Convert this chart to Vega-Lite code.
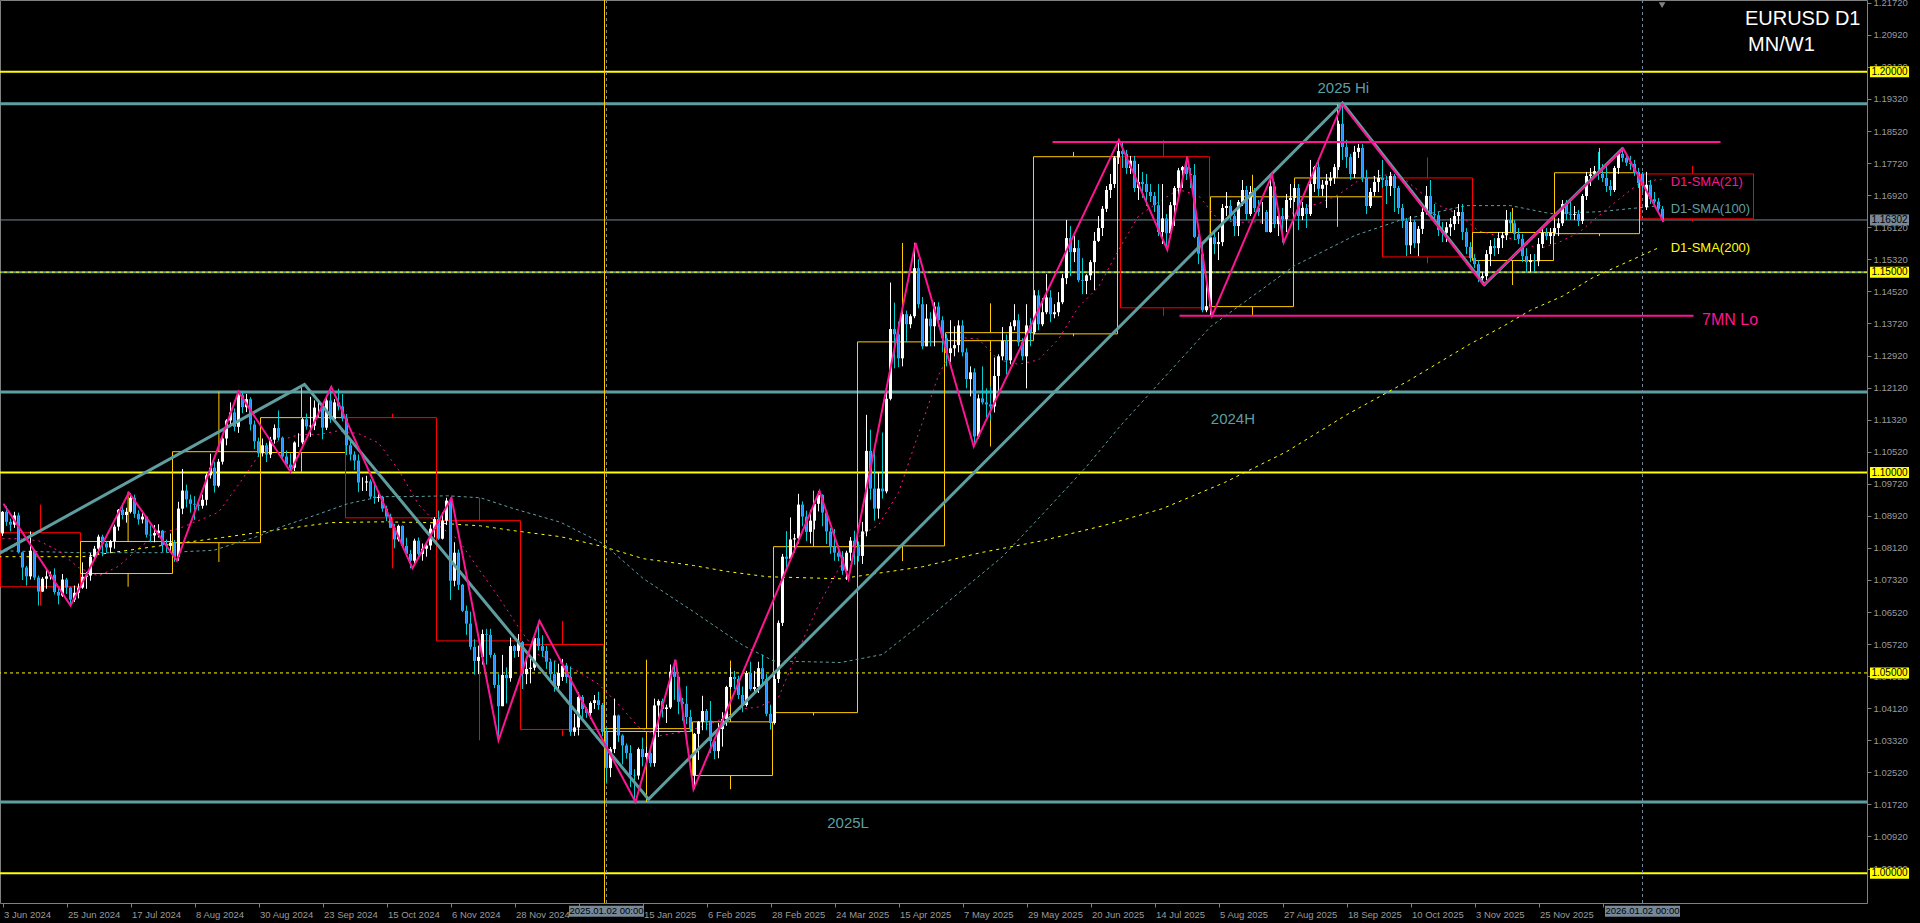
{
"$schema": "https://vega.github.io/schema/vega-lite/v6.json",
"width": 1867, "height": 903,
"autosize": {"type": "none"},
"padding": {"left": 0, "top": 0, "right": 53, "bottom": 20},
"background": "#000000",
"config": {"view": {"stroke": "#808080", "strokeWidth": 1}, "font": "Liberation Sans", "axis": {"labelOverlap": false, "labelBound": false, "labelFlush": false}},
"datasets": {
"candles": [
{"i":0,"o":1.0848,"h":1.0904,"l":1.0842,"c":1.0902},{"i":1,"o":1.0902,"h":1.0916,"l":1.0867,"c":1.0877},{"i":2,"o":1.0877,"h":1.0885,"l":1.0853,"c":1.0870},{"i":3,"o":1.0870,"h":1.0902,"l":1.0862,"c":1.0893},{"i":4,"o":1.0893,"h":1.0900,"l":1.0798,"c":1.0801},
{"i":5,"o":1.0801,"h":1.0802,"l":1.0732,"c":1.0763},{"i":6,"o":1.0763,"h":1.0767,"l":1.0718,"c":1.0741},{"i":7,"o":1.0741,"h":1.0853,"l":1.0733,"c":1.0805},{"i":8,"o":1.0805,"h":1.0809,"l":1.0732,"c":1.0738},{"i":9,"o":1.0738,"h":1.0743,"l":1.0668,"c":1.0703},
{"i":10,"o":1.0703,"h":1.0739,"l":1.0702,"c":1.0735},{"i":11,"o":1.0735,"h":1.0762,"l":1.0710,"c":1.0741},{"i":12,"o":1.0741,"h":1.0753,"l":1.0733,"c":1.0745},{"i":13,"o":1.0745,"h":1.0761,"l":1.0696,"c":1.0702},{"i":14,"o":1.0702,"h":1.0711,"l":1.0671,"c":1.0693},
{"i":15,"o":1.0693,"h":1.0747,"l":1.0690,"c":1.0733},{"i":16,"o":1.0733,"h":1.0737,"l":1.0697,"c":1.0713},{"i":17,"o":1.0713,"h":1.0715,"l":1.0666,"c":1.0683},{"i":18,"o":1.0683,"h":1.0718,"l":1.0677,"c":1.0700},{"i":19,"o":1.0700,"h":1.0723,"l":1.0686,"c":1.0713},
{"i":20,"o":1.0713,"h":1.0776,"l":1.0710,"c":1.0740},{"i":21,"o":1.0740,"h":1.0752,"l":1.0710,"c":1.0743},{"i":22,"o":1.0743,"h":1.0799,"l":1.0730,"c":1.0790},{"i":23,"o":1.0790,"h":1.0817,"l":1.0785,"c":1.0810},{"i":24,"o":1.0810,"h":1.0845,"l":1.0797,"c":1.0840},
{"i":25,"o":1.0840,"h":1.0845,"l":1.0791,"c":1.0823},{"i":26,"o":1.0823,"h":1.0828,"l":1.0800,"c":1.0813},{"i":27,"o":1.0813,"h":1.0832,"l":1.0800,"c":1.0829},{"i":28,"o":1.0829,"h":1.0870,"l":1.0810,"c":1.0865},{"i":29,"o":1.0865,"h":1.0909,"l":1.0855,"c":1.0907},
{"i":30,"o":1.0907,"h":1.0922,"l":1.0883,"c":1.0894},{"i":31,"o":1.0894,"h":1.0912,"l":1.0875,"c":1.0902},{"i":32,"o":1.0902,"h":1.0948,"l":1.0898,"c":1.0937},{"i":33,"o":1.0937,"h":1.0945,"l":1.0887,"c":1.0897},{"i":34,"o":1.0897,"h":1.0906,"l":1.0870,"c":1.0883},
{"i":35,"o":1.0883,"h":1.0903,"l":1.0873,"c":1.0890},{"i":36,"o":1.0890,"h":1.0892,"l":1.0838,"c":1.0845},{"i":37,"o":1.0845,"h":1.0868,"l":1.0826,"c":1.0843},{"i":38,"o":1.0843,"h":1.0869,"l":1.0826,"c":1.0849},{"i":39,"o":1.0849,"h":1.0871,"l":1.0838,"c":1.0855},
{"i":40,"o":1.0855,"h":1.0857,"l":1.0802,"c":1.0819},{"i":41,"o":1.0819,"h":1.0833,"l":1.0800,"c":1.0817},{"i":42,"o":1.0817,"h":1.0848,"l":1.0801,"c":1.0825},{"i":43,"o":1.0825,"h":1.0832,"l":1.0777,"c":1.0790},{"i":44,"o":1.0790,"h":1.0927,"l":1.0780,"c":1.0910},
{"i":45,"o":1.0910,"h":1.1009,"l":1.0896,"c":1.0955},{"i":46,"o":1.0955,"h":1.0970,"l":1.0913,"c":1.0933},{"i":47,"o":1.0933,"h":1.0945,"l":1.0900,"c":1.0922},{"i":48,"o":1.0922,"h":1.0941,"l":1.0882,"c":1.0920},{"i":49,"o":1.0920,"h":1.0933,"l":1.0905,"c":1.0917},
{"i":50,"o":1.0917,"h":1.0945,"l":1.0910,"c":1.0932},{"i":51,"o":1.0932,"h":1.0998,"l":1.0918,"c":1.0993},{"i":52,"o":1.0993,"h":1.1047,"l":1.0985,"c":1.1012},{"i":53,"o":1.1012,"h":1.1027,"l":1.0950,"c":1.0967},{"i":54,"o":1.0967,"h":1.1034,"l":1.0963,"c":1.1027},
{"i":55,"o":1.1027,"h":1.1090,"l":1.1020,"c":1.1085},{"i":56,"o":1.1085,"h":1.1133,"l":1.1068,"c":1.1130},{"i":57,"o":1.1130,"h":1.1175,"l":1.1115,"c":1.1150},{"i":58,"o":1.1150,"h":1.1160,"l":1.1103,"c":1.1114},{"i":59,"o":1.1114,"h":1.1200,"l":1.1099,"c":1.1193},
{"i":60,"o":1.1193,"h":1.1202,"l":1.1148,"c":1.1163},{"i":61,"o":1.1163,"h":1.1196,"l":1.1151,"c":1.1183},{"i":62,"o":1.1183,"h":1.1188,"l":1.1105,"c":1.1120},{"i":63,"o":1.1120,"h":1.1130,"l":1.1059,"c":1.1078},{"i":64,"o":1.1078,"h":1.1087,"l":1.1039,"c":1.1048},
{"i":65,"o":1.1048,"h":1.1085,"l":1.1040,"c":1.1068},{"i":66,"o":1.1068,"h":1.1074,"l":1.1026,"c":1.1045},{"i":67,"o":1.1045,"h":1.1089,"l":1.1036,"c":1.1082},{"i":68,"o":1.1082,"h":1.1120,"l":1.1072,"c":1.1111},{"i":69,"o":1.1111,"h":1.1155,"l":1.1080,"c":1.1087},
{"i":70,"o":1.1087,"h":1.1090,"l":1.1036,"c":1.1040},{"i":71,"o":1.1040,"h":1.1055,"l":1.1018,"c":1.1020},{"i":72,"o":1.1020,"h":1.1048,"l":1.1002,"c":1.1012},{"i":73,"o":1.1012,"h":1.1078,"l":1.1004,"c":1.1075},{"i":74,"o":1.1075,"h":1.1098,"l":1.1064,"c":1.1075},
{"i":75,"o":1.1075,"h":1.1136,"l":1.1070,"c":1.1133},{"i":76,"o":1.1133,"h":1.1147,"l":1.1107,"c":1.1115},{"i":77,"o":1.1115,"h":1.1189,"l":1.1089,"c":1.1117},{"i":78,"o":1.1117,"h":1.1180,"l":1.1106,"c":1.1162},{"i":79,"o":1.1162,"h":1.1179,"l":1.1139,"c":1.1162},
{"i":80,"o":1.1162,"h":1.1166,"l":1.1083,"c":1.1112},{"i":81,"o":1.1112,"h":1.1188,"l":1.1106,"c":1.1180},{"i":82,"o":1.1180,"h":1.1214,"l":1.1124,"c":1.1133},{"i":83,"o":1.1133,"h":1.1183,"l":1.1128,"c":1.1175},{"i":84,"o":1.1175,"h":1.1209,"l":1.1155,"c":1.1165},
{"i":85,"o":1.1165,"h":1.1196,"l":1.1128,"c":1.1135},{"i":86,"o":1.1135,"h":1.1146,"l":1.1044,"c":1.1068},{"i":87,"o":1.1068,"h":1.1083,"l":1.1030,"c":1.1045},{"i":88,"o":1.1045,"h":1.1053,"l":1.1006,"c":1.1030},{"i":89,"o":1.1030,"h":1.1045,"l":1.0951,"c":1.0975},
{"i":90,"o":1.0975,"h":1.0988,"l":1.0954,"c":1.0975},{"i":91,"o":1.0975,"h":1.0992,"l":1.0954,"c":1.0978},{"i":92,"o":1.0978,"h":1.0983,"l":1.0935,"c":1.0940},{"i":93,"o":1.0940,"h":1.0974,"l":1.0922,"c":1.0937},{"i":94,"o":1.0937,"h":1.0953,"l":1.0927,"c":1.0939},
{"i":95,"o":1.0939,"h":1.0942,"l":1.0902,"c":1.0910},{"i":96,"o":1.0910,"h":1.0917,"l":1.0879,"c":1.0890},{"i":97,"o":1.0890,"h":1.0897,"l":1.0861,"c":1.0862},{"i":98,"o":1.0862,"h":1.0872,"l":1.0811,"c":1.0833},{"i":99,"o":1.0833,"h":1.0870,"l":1.0828,"c":1.0867},
{"i":100,"o":1.0867,"h":1.0868,"l":1.0812,"c":1.0817},{"i":101,"o":1.0817,"h":1.0837,"l":1.0794,"c":1.0797},{"i":102,"o":1.0797,"h":1.0807,"l":1.0761,"c":1.0780},{"i":103,"o":1.0780,"h":1.0835,"l":1.0772,"c":1.0830},{"i":104,"o":1.0830,"h":1.0838,"l":1.0792,"c":1.0797},
{"i":105,"o":1.0797,"h":1.0823,"l":1.0780,"c":1.0810},{"i":106,"o":1.0810,"h":1.0826,"l":1.0790,"c":1.0818},{"i":107,"o":1.0818,"h":1.0870,"l":1.0807,"c":1.0860},{"i":108,"o":1.0860,"h":1.0889,"l":1.0838,"c":1.0884},{"i":109,"o":1.0884,"h":1.0905,"l":1.0832,"c":1.0835},
{"i":110,"o":1.0835,"h":1.0901,"l":1.0833,"c":1.0880},{"i":111,"o":1.0880,"h":1.0937,"l":1.0869,"c":1.0930},{"i":112,"o":1.0930,"h":1.0937,"l":1.0682,"c":1.0730},{"i":113,"o":1.0730,"h":1.0826,"l":1.0716,"c":1.0800},{"i":114,"o":1.0800,"h":1.0808,"l":1.0707,"c":1.0720},
{"i":115,"o":1.0720,"h":1.0722,"l":1.0652,"c":1.0655},{"i":116,"o":1.0655,"h":1.0668,"l":1.0595,"c":1.0623},{"i":117,"o":1.0623,"h":1.0653,"l":1.0558,"c":1.0565},{"i":118,"o":1.0565,"h":1.0584,"l":1.0496,"c":1.0530},{"i":119,"o":1.0530,"h":1.0568,"l":1.0497,"c":1.0540},
{"i":120,"o":1.0540,"h":1.0608,"l":1.0521,"c":1.0597},{"i":121,"o":1.0597,"h":1.0610,"l":1.0521,"c":1.0595},{"i":122,"o":1.0595,"h":1.0610,"l":1.0538,"c":1.0545},{"i":123,"o":1.0545,"h":1.0550,"l":1.0462,"c":1.0470},{"i":124,"o":1.0470,"h":1.0498,"l":1.0332,"c":1.0417},
{"i":125,"o":1.0417,"h":1.0545,"l":1.0417,"c":1.0495},{"i":126,"o":1.0495,"h":1.0514,"l":1.0424,"c":1.0487},{"i":127,"o":1.0487,"h":1.0588,"l":1.0478,"c":1.0567},{"i":128,"o":1.0567,"h":1.0570,"l":1.0538,"c":1.0555},{"i":129,"o":1.0555,"h":1.0597,"l":1.0540,"c":1.0577},
{"i":130,"o":1.0577,"h":1.0580,"l":1.0460,"c":1.0497},{"i":131,"o":1.0497,"h":1.0539,"l":1.0472,"c":1.0510},{"i":132,"o":1.0510,"h":1.0544,"l":1.0474,"c":1.0513},{"i":133,"o":1.0513,"h":1.0595,"l":1.0506,"c":1.0587},{"i":134,"o":1.0587,"h":1.0630,"l":1.0556,"c":1.0567},
{"i":135,"o":1.0567,"h":1.0594,"l":1.0540,"c":1.0555},{"i":136,"o":1.0555,"h":1.0568,"l":1.0510,"c":1.0528},{"i":137,"o":1.0528,"h":1.0535,"l":1.0484,"c":1.0497},{"i":138,"o":1.0497,"h":1.0530,"l":1.0453,"c":1.0468},{"i":139,"o":1.0468,"h":1.0523,"l":1.0460,"c":1.0500},
{"i":140,"o":1.0490,"h":1.0535,"l":1.0480,"c":1.0518},{"i":141,"o":1.0518,"h":1.0525,"l":1.0475,"c":1.0490},{"i":142,"o":1.0490,"h":1.0516,"l":1.0343,"c":1.0353},{"i":143,"o":1.0353,"h":1.0398,"l":1.0343,"c":1.0364},{"i":144,"o":1.0364,"h":1.0452,"l":1.0344,"c":1.0440},
{"i":145,"o":1.0440,"h":1.0445,"l":1.0380,"c":1.0410},{"i":146,"o":1.0410,"h":1.0415,"l":1.0388,"c":1.0400},{"i":147,"o":1.0400,"h":1.0429,"l":1.0385,"c":1.0425},{"i":148,"o":1.0425,"h":1.0445,"l":1.0410,"c":1.0432},{"i":149,"o":1.0432,"h":1.0453,"l":1.0408,"c":1.0420},
{"i":150,"o":1.0420,"h":1.0425,"l":1.0342,"c":1.0353},{"i":151,"o":1.0353,"h":1.0365,"l":1.0224,"c":1.0263},{"i":152,"o":1.0263,"h":1.0315,"l":1.0240,"c":1.0310},{"i":153,"o":1.0310,"h":1.0436,"l":1.0300,"c":1.0394},{"i":154,"o":1.0394,"h":1.0396,"l":1.0328,"c":1.0344},
{"i":155,"o":1.0344,"h":1.0347,"l":1.0272,"c":1.0319},{"i":156,"o":1.0319,"h":1.0324,"l":1.0286,"c":1.0300},{"i":157,"o":1.0300,"h":1.0320,"l":1.0215,"c":1.0245},{"i":158,"o":1.0245,"h":1.0260,"l":1.0178,"c":1.0244},{"i":159,"o":1.0244,"h":1.0314,"l":1.0234,"c":1.0310},
{"i":160,"o":1.0310,"h":1.0339,"l":1.0267,"c":1.0290},{"i":161,"o":1.0290,"h":1.0316,"l":1.0268,"c":1.0300},{"i":162,"o":1.0300,"h":1.0306,"l":1.0266,"c":1.0275},{"i":163,"o":1.0275,"h":1.0436,"l":1.0266,"c":1.0419},{"i":164,"o":1.0419,"h":1.0434,"l":1.0340,"c":1.0430},
{"i":165,"o":1.0430,"h":1.0436,"l":1.0389,"c":1.0410},{"i":166,"o":1.0410,"h":1.0421,"l":1.0375,"c":1.0414},{"i":167,"o":1.0414,"h":1.0521,"l":1.0410,"c":1.0503},{"i":168,"o":1.0503,"h":1.0533,"l":1.0433,"c":1.0490},{"i":169,"o":1.0490,"h":1.0492,"l":1.0397,"c":1.0428},
{"i":170,"o":1.0428,"h":1.0438,"l":1.0381,"c":1.0423},{"i":171,"o":1.0423,"h":1.0467,"l":1.0372,"c":1.0390},{"i":172,"o":1.0390,"h":1.0408,"l":1.0354,"c":1.0362},{"i":173,"o":1.0245,"h":1.0350,"l":1.0210,"c":1.0348},{"i":174,"o":1.0348,"h":1.0380,"l":1.0283,"c":1.0378},
{"i":175,"o":1.0378,"h":1.0443,"l":1.0357,"c":1.0405},{"i":176,"o":1.0405,"h":1.0410,"l":1.0357,"c":1.0381},{"i":177,"o":1.0381,"h":1.0430,"l":1.0300,"c":1.0330},{"i":178,"o":1.0330,"h":1.0332,"l":1.0285,"c":1.0305},{"i":179,"o":1.0305,"h":1.0375,"l":1.0287,"c":1.0360},
{"i":180,"o":1.0360,"h":1.0402,"l":1.0316,"c":1.0385},{"i":181,"o":1.0385,"h":1.0468,"l":1.0368,"c":1.0465},{"i":182,"o":1.0465,"h":1.0513,"l":1.0460,"c":1.0490},{"i":183,"o":1.0490,"h":1.0505,"l":1.0460,"c":1.0485},{"i":184,"o":1.0485,"h":1.0493,"l":1.0435,"c":1.0445},
{"i":185,"o":1.0445,"h":1.0466,"l":1.0402,"c":1.0420},{"i":186,"o":1.0420,"h":1.0505,"l":1.0416,"c":1.0500},{"i":187,"o":1.0500,"h":1.0528,"l":1.0456,"c":1.0460},{"i":188,"o":1.0460,"h":1.0505,"l":1.0447,"c":1.0465},{"i":189,"o":1.0465,"h":1.0528,"l":1.0450,"c":1.0512},
{"i":190,"o":1.0512,"h":1.0546,"l":1.0470,"c":1.0485},{"i":191,"o":1.0485,"h":1.0497,"l":1.0392,"c":1.0398},{"i":192,"o":1.0398,"h":1.0421,"l":1.0359,"c":1.0375},{"i":193,"o":1.0375,"h":1.0498,"l":1.0371,"c":1.0485},{"i":194,"o":1.0485,"h":1.0631,"l":1.0475,"c":1.0625},
{"i":195,"o":1.0625,"h":1.0797,"l":1.0617,"c":1.0790},{"i":196,"o":1.0790,"h":1.0854,"l":1.0762,"c":1.0785},{"i":197,"o":1.0785,"h":1.0888,"l":1.0780,"c":1.0833},{"i":198,"o":1.0833,"h":1.0847,"l":1.0800,"c":1.0836},{"i":199,"o":1.0836,"h":1.0947,"l":1.0823,"c":1.0920},
{"i":200,"o":1.0920,"h":1.0928,"l":1.0866,"c":1.0890},{"i":201,"o":1.0890,"h":1.0905,"l":1.0829,"c":1.0852},{"i":202,"o":1.0852,"h":1.0907,"l":1.0823,"c":1.0880},{"i":203,"o":1.0880,"h":1.0929,"l":1.0858,"c":1.0922},{"i":204,"o":1.0922,"h":1.0954,"l":1.0903,"c":1.0944},
{"i":205,"o":1.0944,"h":1.0946,"l":1.0866,"c":1.0900},{"i":206,"o":1.0900,"h":1.0905,"l":1.0822,"c":1.0853},{"i":207,"o":1.0853,"h":1.0862,"l":1.0797,"c":1.0815},{"i":208,"o":1.0815,"h":1.0859,"l":1.0780,"c":1.0800},{"i":209,"o":1.0800,"h":1.0818,"l":1.0779,"c":1.0790},
{"i":210,"o":1.0790,"h":1.0804,"l":1.0745,"c":1.0755},{"i":211,"o":1.0755,"h":1.0805,"l":1.0732,"c":1.0800},{"i":212,"o":1.0800,"h":1.0839,"l":1.0780,"c":1.0830},{"i":213,"o":1.0830,"h":1.0855,"l":1.0770,"c":1.0815},{"i":214,"o":1.0815,"h":1.0828,"l":1.0778,"c":1.0792},
{"i":215,"o":1.0792,"h":1.0877,"l":1.0772,"c":1.0853},{"i":216,"o":1.0853,"h":1.1144,"l":1.0841,"c":1.1054},{"i":217,"o":1.1054,"h":1.1107,"l":1.0932,"c":1.0960},{"i":218,"o":1.0960,"h":1.1051,"l":1.0880,"c":1.0910},{"i":219,"o":1.0910,"h":1.1000,"l":1.0885,"c":1.0960},
{"i":220,"o":1.0960,"h":1.1100,"l":1.0935,"c":1.0953},{"i":221,"o":1.0953,"h":1.1214,"l":1.0948,"c":1.1184},{"i":222,"o":1.1184,"h":1.1474,"l":1.1180,"c":1.1358},{"i":223,"o":1.1358,"h":1.1424,"l":1.1260,"c":1.1345},{"i":224,"o":1.1345,"h":1.1377,"l":1.1263,"c":1.1285},
{"i":225,"o":1.1285,"h":1.1405,"l":1.1265,"c":1.1395},{"i":226,"o":1.1395,"h":1.1404,"l":1.1325,"c":1.1370},{"i":227,"o":1.1370,"h":1.1395,"l":1.1360,"c":1.1390},{"i":228,"o":1.1390,"h":1.1573,"l":1.1385,"c":1.1510},{"i":229,"o":1.1510,"h":1.1532,"l":1.1410,"c":1.1420},
{"i":230,"o":1.1420,"h":1.1438,"l":1.1308,"c":1.1315},{"i":231,"o":1.1315,"h":1.1420,"l":1.1315,"c":1.1384},{"i":232,"o":1.1384,"h":1.1400,"l":1.1315,"c":1.1365},{"i":233,"o":1.1365,"h":1.1425,"l":1.1315,"c":1.1414},{"i":234,"o":1.1414,"h":1.1425,"l":1.1364,"c":1.1380},
{"i":235,"o":1.1380,"h":1.1390,"l":1.1300,"c":1.1335},{"i":236,"o":1.1335,"h":1.1345,"l":1.1265,"c":1.1298},{"i":237,"o":1.1298,"h":1.1380,"l":1.1275,"c":1.1310},{"i":238,"o":1.1310,"h":1.1365,"l":1.1290,"c":1.1318},{"i":239,"o":1.1318,"h":1.1380,"l":1.1300,"c":1.1367},
{"i":240,"o":1.1367,"h":1.1380,"l":1.1290,"c":1.1300},{"i":241,"o":1.1300,"h":1.1310,"l":1.1210,"c":1.1233},{"i":242,"o":1.1233,"h":1.1265,"l":1.1190,"c":1.1250},{"i":243,"o":1.1250,"h":1.1260,"l":1.1065,"c":1.1090},{"i":244,"o":1.1090,"h":1.1195,"l":1.1085,"c":1.1185},
{"i":245,"o":1.1185,"h":1.1265,"l":1.1170,"c":1.1175},{"i":246,"o":1.1175,"h":1.1210,"l":1.1130,"c":1.1170},{"i":247,"o":1.1170,"h":1.1215,"l":1.1130,"c":1.1165},{"i":248,"o":1.1165,"h":1.1287,"l":1.1150,"c":1.1241},{"i":249,"o":1.1241,"h":1.1295,"l":1.1205,"c":1.1290},
{"i":250,"o":1.1290,"h":1.1363,"l":1.1280,"c":1.1329},{"i":251,"o":1.1329,"h":1.1345,"l":1.1245,"c":1.1280},{"i":252,"o":1.1280,"h":1.1375,"l":1.1270,"c":1.1365},{"i":253,"o":1.1365,"h":1.1420,"l":1.1355,"c":1.1380},{"i":254,"o":1.1380,"h":1.1395,"l":1.1315,"c":1.1325},
{"i":255,"o":1.1325,"h":1.1335,"l":1.1280,"c":1.1290},{"i":256,"o":1.1290,"h":1.1420,"l":1.1210,"c":1.1367},{"i":257,"o":1.1367,"h":1.1385,"l":1.1315,"c":1.1350},{"i":258,"o":1.1350,"h":1.1455,"l":1.1345,"c":1.1442},{"i":259,"o":1.1442,"h":1.1455,"l":1.1355,"c":1.1370},
{"i":260,"o":1.1370,"h":1.1435,"l":1.1365,"c":1.1400},{"i":261,"o":1.1400,"h":1.1495,"l":1.1395,"c":1.1437},{"i":262,"o":1.1437,"h":1.1455,"l":1.1375,"c":1.1395},{"i":263,"o":1.1395,"h":1.1420,"l":1.1385,"c":1.1400},{"i":264,"o":1.1400,"h":1.1450,"l":1.1390,"c":1.1425},
{"i":265,"o":1.1425,"h":1.1495,"l":1.1420,"c":1.1485},{"i":266,"o":1.1485,"h":1.1630,"l":1.1470,"c":1.1585},{"i":267,"o":1.1585,"h":1.1615,"l":1.1490,"c":1.1550},{"i":268,"o":1.1550,"h":1.1590,"l":1.1525,"c":1.1560},{"i":269,"o":1.1560,"h":1.1580,"l":1.1475,"c":1.1480},
{"i":270,"o":1.1480,"h":1.1535,"l":1.1445,"c":1.1478},{"i":271,"o":1.1478,"h":1.1495,"l":1.1445,"c":1.1492},{"i":272,"o":1.1492,"h":1.1530,"l":1.1480,"c":1.1525},{"i":273,"o":1.1525,"h":1.1600,"l":1.1455,"c":1.1578},{"i":274,"o":1.1578,"h":1.1640,"l":1.1575,"c":1.1610},
{"i":275,"o":1.1610,"h":1.1665,"l":1.1590,"c":1.1658},{"i":276,"o":1.1658,"h":1.1715,"l":1.1650,"c":1.1705},{"i":277,"o":1.1705,"h":1.1745,"l":1.1685,"c":1.1720},{"i":278,"o":1.1720,"h":1.1790,"l":1.1710,"c":1.1786},{"i":279,"o":1.1786,"h":1.1830,"l":1.1770,"c":1.1802},
{"i":280,"o":1.1802,"h":1.1825,"l":1.1760,"c":1.1795},{"i":281,"o":1.1795,"h":1.1805,"l":1.1745,"c":1.1760},{"i":282,"o":1.1760,"h":1.1790,"l":1.1745,"c":1.1778},{"i":283,"o":1.1778,"h":1.1790,"l":1.1700,"c":1.1710},{"i":284,"o":1.1710,"h":1.1770,"l":1.1680,"c":1.1725},
{"i":285,"o":1.1725,"h":1.1750,"l":1.1685,"c":1.1720},{"i":286,"o":1.1720,"h":1.1745,"l":1.1665,"c":1.1700},{"i":287,"o":1.1700,"h":1.1720,"l":1.1675,"c":1.1690},{"i":288,"o":1.1690,"h":1.1700,"l":1.1650,"c":1.1667},{"i":289,"o":1.1667,"h":1.1720,"l":1.1590,"c":1.1600},
{"i":290,"o":1.1600,"h":1.1720,"l":1.1570,"c":1.1634},{"i":291,"o":1.1634,"h":1.1645,"l":1.1556,"c":1.1597},{"i":292,"o":1.1597,"h":1.1675,"l":1.1590,"c":1.1667},{"i":293,"o":1.1667,"h":1.1715,"l":1.1615,"c":1.1710},{"i":294,"o":1.1710,"h":1.1760,"l":1.1680,"c":1.1754},
{"i":295,"o":1.1754,"h":1.1765,"l":1.1710,"c":1.1762},{"i":296,"o":1.1762,"h":1.1788,"l":1.1730,"c":1.1745},{"i":297,"o":1.1745,"h":1.1760,"l":1.1710,"c":1.1742},{"i":298,"o":1.1742,"h":1.1770,"l":1.1585,"c":1.1588},{"i":299,"o":1.1588,"h":1.1595,"l":1.1520,"c":1.1546},
{"i":300,"o":1.1546,"h":1.1575,"l":1.1400,"c":1.1405},{"i":301,"o":1.1405,"h":1.1470,"l":1.1400,"c":1.1415},{"i":302,"o":1.1415,"h":1.1595,"l":1.1391,"c":1.1587},{"i":303,"o":1.1587,"h":1.1600,"l":1.1545,"c":1.1570},{"i":304,"o":1.1570,"h":1.1600,"l":1.1530,"c":1.1575},
{"i":305,"o":1.1575,"h":1.1670,"l":1.1565,"c":1.1660},{"i":306,"o":1.1660,"h":1.1700,"l":1.1640,"c":1.1665},{"i":307,"o":1.1665,"h":1.1680,"l":1.1630,"c":1.1640},{"i":308,"o":1.1640,"h":1.1645,"l":1.1590,"c":1.1615},{"i":309,"o":1.1615,"h":1.1680,"l":1.1590,"c":1.1675},
{"i":310,"o":1.1675,"h":1.1730,"l":1.1665,"c":1.1705},{"i":311,"o":1.1705,"h":1.1715,"l":1.1630,"c":1.1645},{"i":312,"o":1.1645,"h":1.1715,"l":1.1640,"c":1.1700},{"i":313,"o":1.1700,"h":1.1710,"l":1.1650,"c":1.1660},{"i":314,"o":1.1660,"h":1.1680,"l":1.1640,"c":1.1650},
{"i":315,"o":1.1650,"h":1.1675,"l":1.1620,"c":1.1650},{"i":316,"o":1.1650,"h":1.1655,"l":1.1605,"c":1.1600},{"i":317,"o":1.1600,"h":1.1743,"l":1.1598,"c":1.1714},{"i":318,"o":1.1714,"h":1.1725,"l":1.1610,"c":1.1620},{"i":319,"o":1.1620,"h":1.1660,"l":1.1590,"c":1.1640},
{"i":320,"o":1.1640,"h":1.1660,"l":1.1574,"c":1.1632},{"i":321,"o":1.1632,"h":1.1695,"l":1.1600,"c":1.1680},{"i":322,"o":1.1680,"h":1.1720,"l":1.1660,"c":1.1685},{"i":323,"o":1.1685,"h":1.1720,"l":1.1675,"c":1.1710},{"i":324,"o":1.1710,"h":1.1720,"l":1.1605,"c":1.1640},
{"i":325,"o":1.1640,"h":1.1675,"l":1.1630,"c":1.1660},{"i":326,"o":1.1660,"h":1.1670,"l":1.1610,"c":1.1645},{"i":327,"o":1.1645,"h":1.1780,"l":1.1640,"c":1.1720},{"i":328,"o":1.1720,"h":1.1765,"l":1.1700,"c":1.1762},{"i":329,"o":1.1762,"h":1.1785,"l":1.1690,"c":1.1708},
{"i":330,"o":1.1708,"h":1.1730,"l":1.1690,"c":1.1718},{"i":331,"o":1.1718,"h":1.1745,"l":1.1660,"c":1.1728},{"i":332,"o":1.1728,"h":1.1750,"l":1.1715,"c":1.1735},{"i":333,"o":1.1735,"h":1.1770,"l":1.1720,"c":1.1762},{"i":334,"o":1.1762,"h":1.1878,"l":1.1755,"c":1.1870},
{"i":335,"o":1.1870,"h":1.1919,"l":1.1780,"c":1.1812},{"i":336,"o":1.1812,"h":1.1830,"l":1.1760,"c":1.1787},{"i":337,"o":1.1787,"h":1.1795,"l":1.1730,"c":1.1745},{"i":338,"o":1.1745,"h":1.1815,"l":1.1735,"c":1.1800},{"i":339,"o":1.1800,"h":1.1820,"l":1.1785,"c":1.1810},
{"i":340,"o":1.1810,"h":1.1820,"l":1.1725,"c":1.1735},{"i":341,"o":1.1735,"h":1.1755,"l":1.1645,"c":1.1665},{"i":342,"o":1.1665,"h":1.1710,"l":1.1660,"c":1.1700},{"i":343,"o":1.1700,"h":1.1740,"l":1.1690,"c":1.1725},{"i":344,"o":1.1725,"h":1.1755,"l":1.1700,"c":1.1735},
{"i":345,"o":1.1735,"h":1.1780,"l":1.1710,"c":1.1730},{"i":346,"o":1.1730,"h":1.1740,"l":1.1670,"c":1.1715},{"i":347,"o":1.1715,"h":1.1750,"l":1.1690,"c":1.1740},{"i":348,"o":1.1740,"h":1.1745,"l":1.1650,"c":1.1710},{"i":349,"o":1.1710,"h":1.1715,"l":1.1645,"c":1.1660},
{"i":350,"o":1.1660,"h":1.1670,"l":1.1610,"c":1.1628},{"i":351,"o":1.1628,"h":1.1635,"l":1.1540,"c":1.1567},{"i":352,"o":1.1567,"h":1.1640,"l":1.1545,"c":1.1625},{"i":353,"o":1.1625,"h":1.1630,"l":1.1560,"c":1.1572},{"i":354,"o":1.1572,"h":1.1615,"l":1.1540,"c":1.1608},
{"i":355,"o":1.1608,"h":1.1660,"l":1.1595,"c":1.1650},{"i":356,"o":1.1650,"h":1.1715,"l":1.1645,"c":1.1690},{"i":357,"o":1.1690,"h":1.1730,"l":1.1640,"c":1.1645},{"i":358,"o":1.1645,"h":1.1670,"l":1.1630,"c":1.1642},{"i":359,"o":1.1642,"h":1.1650,"l":1.1590,"c":1.1605},
{"i":360,"o":1.1605,"h":1.1625,"l":1.1575,"c":1.1598},{"i":361,"o":1.1598,"h":1.1625,"l":1.1575,"c":1.1612},{"i":362,"o":1.1612,"h":1.1635,"l":1.1590,"c":1.1620},{"i":363,"o":1.1620,"h":1.1655,"l":1.1605,"c":1.1640},{"i":364,"o":1.1640,"h":1.1670,"l":1.1620,"c":1.1650},
{"i":365,"o":1.1650,"h":1.1670,"l":1.1580,"c":1.1600},{"i":366,"o":1.1600,"h":1.1610,"l":1.1545,"c":1.1563},{"i":367,"o":1.1563,"h":1.1575,"l":1.1525,"c":1.1535},{"i":368,"o":1.1535,"h":1.1545,"l":1.1510,"c":1.1520},{"i":369,"o":1.1520,"h":1.1530,"l":1.1475,"c":1.1485},
{"i":370,"o":1.1485,"h":1.1500,"l":1.1468,"c":1.1490},{"i":371,"o":1.1490,"h":1.1555,"l":1.1480,"c":1.1545},{"i":372,"o":1.1545,"h":1.1580,"l":1.1515,"c":1.1565},{"i":373,"o":1.1565,"h":1.1585,"l":1.1540,"c":1.1560},{"i":374,"o":1.1560,"h":1.1600,"l":1.1545,"c":1.1585},
{"i":375,"o":1.1585,"h":1.1600,"l":1.1560,"c":1.1592},{"i":376,"o":1.1592,"h":1.1655,"l":1.1580,"c":1.1630},{"i":377,"o":1.1630,"h":1.1650,"l":1.1600,"c":1.1622},{"i":378,"o":1.1622,"h":1.1630,"l":1.1580,"c":1.1595},{"i":379,"o":1.1595,"h":1.1610,"l":1.1570,"c":1.1583},
{"i":380,"o":1.1583,"h":1.1595,"l":1.1525,"c":1.1540},{"i":381,"o":1.1540,"h":1.1560,"l":1.1500,"c":1.1525},{"i":382,"o":1.1525,"h":1.1545,"l":1.1500,"c":1.1530},{"i":383,"o":1.1530,"h":1.1545,"l":1.1500,"c":1.1527},{"i":384,"o":1.1527,"h":1.1585,"l":1.1515,"c":1.1570},
{"i":385,"o":1.1570,"h":1.1610,"l":1.1560,"c":1.1598},{"i":386,"o":1.1598,"h":1.1610,"l":1.1580,"c":1.1590},{"i":387,"o":1.1590,"h":1.1610,"l":1.1570,"c":1.1598},{"i":388,"o":1.1598,"h":1.1630,"l":1.1590,"c":1.1610},{"i":389,"o":1.1610,"h":1.1635,"l":1.1590,"c":1.1622},
{"i":390,"o":1.1622,"h":1.1680,"l":1.1615,"c":1.1670},{"i":391,"o":1.1670,"h":1.1680,"l":1.1630,"c":1.1645},{"i":392,"o":1.1645,"h":1.1680,"l":1.1630,"c":1.1643},{"i":393,"o":1.1643,"h":1.1665,"l":1.1630,"c":1.1645},{"i":394,"o":1.1645,"h":1.1655,"l":1.1615,"c":1.1628},
{"i":395,"o":1.1628,"h":1.1695,"l":1.1620,"c":1.1690},{"i":396,"o":1.1690,"h":1.1750,"l":1.1680,"c":1.1740},{"i":397,"o":1.1740,"h":1.1760,"l":1.1715,"c":1.1744},{"i":398,"o":1.1744,"h":1.1765,"l":1.1735,"c":1.1752},{"i":399,"o":1.1752,"h":1.1800,"l":1.1730,"c":1.1745},
{"i":400,"o":1.1745,"h":1.1770,"l":1.1725,"c":1.1735},{"i":401,"o":1.1735,"h":1.1765,"l":1.1700,"c":1.1715},{"i":402,"o":1.1715,"h":1.1730,"l":1.1690,"c":1.1705},{"i":403,"o":1.1705,"h":1.1765,"l":1.1700,"c":1.1760},{"i":404,"o":1.1760,"h":1.1800,"l":1.1745,"c":1.1795},
{"i":405,"o":1.1795,"h":1.1810,"l":1.1775,"c":1.1785},{"i":406,"o":1.1785,"h":1.1795,"l":1.1765,"c":1.1773},{"i":407,"o":1.1773,"h":1.1790,"l":1.1755,"c":1.1770},{"i":408,"o":1.1770,"h":1.1780,"l":1.1740,"c":1.1750},{"i":409,"o":1.1750,"h":1.1760,"l":1.1710,"c":1.1722},
{"i":410,"o":1.1745,"h":1.1750,"l":1.1700,"c":1.1716},{"i":411,"o":1.1662,"h":1.1750,"l":1.1655,"c":1.1718},{"i":412,"o":1.1718,"h":1.1730,"l":1.1670,"c":1.1682},{"i":413,"o":1.1682,"h":1.1700,"l":1.1665,"c":1.1676},{"i":414,"o":1.1676,"h":1.1685,"l":1.1650,"c":1.1658},
{"i":415,"o":1.1658,"h":1.1665,"l":1.1625,"c":1.16302}
],
"months": [
{"x1":-0.5,"x2":19.5,"xm":9.5,"o":1.0850,"c":1.0715,"h":1.0920,"l":1.0668},
{"x1":19.5,"x2":42.5,"xm":31.4,"o":1.0748,"c":1.0828,"h":1.0952,"l":1.0715},
{"x1":42.5,"x2":64.5,"xm":54.1,"o":1.0825,"c":1.1052,"h":1.1202,"l":1.0777},
{"x1":64.5,"x2":85.75,"xm":74.75,"o":1.1050,"c":1.1137,"h":1.1214,"l":1.1002},
{"x1":85.75,"x2":108.5,"xm":97.5,"o":1.1137,"c":1.0887,"h":1.1147,"l":1.0761},
{"x1":108.5,"x2":129.5,"xm":119.25,"o":1.0880,"c":1.0580,"h":1.0937,"l":1.0332},
{"x1":129.5,"x2":150.25,"xm":140,"o":1.0571,"c":1.0359,"h":1.0630,"l":1.0343},
{"x1":150.5,"x2":172.25,"xm":161,"o":1.0354,"c":1.0361,"h":1.0533,"l":1.0178},
{"x1":172.5,"x2":192.5,"xm":182,"o":1.0244,"c":1.0378,"h":1.0531,"l":1.0210},
{"x1":192.75,"x2":213.75,"xm":202.75,"o":1.0401,"c":1.0815,"h":1.0955,"l":1.0394},
{"x1":213.75,"x2":235.5,"xm":225,"o":1.0817,"c":1.1326,"h":1.1573,"l":1.0779},
{"x1":235.75,"x2":257.75,"xm":247,"o":1.1329,"c":1.1349,"h":1.1422,"l":1.1065},
{"x1":257.75,"x2":278.75,"xm":267.75,"o":1.1346,"c":1.1788,"h":1.1800,"l":1.1340},
{"x1":279.5,"x2":301.75,"xm":290.25,"o":1.1788,"c":1.1411,"h":1.1829,"l":1.1391},
{"x1":302,"x2":322.75,"xm":312.5,"o":1.1414,"c":1.1688,"h":1.1743,"l":1.1391},
{"x1":323,"x2":345,"xm":333.75,"o":1.1688,"c":1.1735,"h":1.1919,"l":1.1613},
{"x1":345,"x2":367.5,"xm":356.25,"o":1.1735,"c":1.1538,"h":1.1786,"l":1.1522},
{"x1":367.5,"x2":387.75,"xm":377.5,"o":1.1529,"c":1.1599,"h":1.1660,"l":1.1468},
{"x1":388,"x2":409.25,"xm":399.25,"o":1.1596,"c":1.1748,"h":1.1810,"l":1.1590},
{"x1":409.5,"x2":437.75,"xm":422.5,"o":1.1745,"c":1.1633,"h":1.1765,"l":1.1626}
],
"sma21": [
{"i":0,"v":1.0835},{"i":4,"v":1.0835},{"i":9,"v":1.0830},{"i":14,"v":1.0805},{"i":19,"v":1.0763},{"i":24,"v":1.0742},{"i":29,"v":1.0766},{"i":34,"v":1.0811},{"i":39,"v":1.0848},{"i":44,"v":1.0860},
{"i":49,"v":1.0880},{"i":54,"v":1.0901},{"i":59,"v":1.0970},{"i":64,"v":1.1042},{"i":69,"v":1.1079},{"i":74,"v":1.1094},{"i":79,"v":1.1095},{"i":84,"v":1.1104},{"i":89,"v":1.1097},{"i":94,"v":1.1074},
{"i":99,"v":1.1007},{"i":104,"v":1.0920},{"i":109,"v":1.0868},{"i":114,"v":1.0832},{"i":119,"v":1.0760},{"i":124,"v":1.0690},{"i":129,"v":1.0614},{"i":134,"v":1.0545},{"i":139,"v":1.0527},{"i":144,"v":1.0503},
{"i":149,"v":1.0472},{"i":154,"v":1.0422},{"i":159,"v":1.0365},{"i":164,"v":1.0343},{"i":169,"v":1.0351},{"i":174,"v":1.0363},{"i":179,"v":1.0381},{"i":184,"v":1.0409},{"i":189,"v":1.0415},{"i":194,"v":1.0439},
{"i":199,"v":1.0558},{"i":204,"v":1.0669},{"i":209,"v":1.0759},{"i":214,"v":1.0840},{"i":219,"v":1.0869},{"i":224,"v":1.0950},{"i":229,"v":1.1097},{"i":234,"v":1.1243},{"i":239,"v":1.1337},{"i":244,"v":1.1333},
{"i":249,"v":1.1281},{"i":254,"v":1.1270},{"i":259,"v":1.1281},{"i":264,"v":1.1333},{"i":269,"v":1.1413},{"i":274,"v":1.1463},{"i":279,"v":1.1555},{"i":284,"v":1.1640},{"i":289,"v":1.1675},{"i":294,"v":1.1706},
{"i":299,"v":1.1691},{"i":304,"v":1.1630},{"i":309,"v":1.1624},{"i":314,"v":1.1626},{"i":319,"v":1.1620},{"i":324,"v":1.1659},{"i":329,"v":1.1671},{"i":334,"v":1.1693},{"i":339,"v":1.1729},{"i":344,"v":1.1741},
{"i":349,"v":1.1744},{"i":354,"v":1.1703},{"i":359,"v":1.1667},{"i":364,"v":1.1645},{"i":369,"v":1.1603},{"i":374,"v":1.1590},{"i":379,"v":1.1580},{"i":384,"v":1.1558},{"i":389,"v":1.1574},{"i":394,"v":1.1598},
{"i":399,"v":1.1640},{"i":404,"v":1.1681},{"i":409,"v":1.1720},{"i":414,"v":1.1732},{"i":415,"v":1.1730}
],
"sma100": [
{"i":-1,"v":1.0805},{"i":20,"v":1.0800},{"i":40,"v":1.0800},{"i":52.8,"v":1.0806},{"i":57.8,"v":1.0822},{"i":64.5,"v":1.0843},{"i":69.5,"v":1.0864},{"i":77.75,"v":1.0892},{"i":86.25,"v":1.0922},{"i":94.5,"v":1.0940},
{"i":102.75,"v":1.0940},{"i":111.25,"v":1.0942},{"i":119.5,"v":1.0937},{"i":127.75,"v":1.0910},{"i":139.5,"v":1.0876},{"i":150.25,"v":1.0822},{"i":160.25,"v":1.0735},{"i":172.75,"v":1.0653},{"i":185.25,"v":1.0568},{"i":192.75,"v":1.0530},
{"i":209.5,"v":1.0526},{"i":220,"v":1.0546},{"i":230,"v":1.0625},{"i":250,"v":1.0790},{"i":260,"v":1.0896},{"i":270.75,"v":1.1012},{"i":279.5,"v":1.1117},{"i":302,"v":1.1364},{"i":323,"v":1.1516},{"i":338,"v":1.1591},
{"i":349.5,"v":1.1630},{"i":366,"v":1.1666},{"i":377,"v":1.1666},{"i":387,"v":1.1646},{"i":399.5,"v":1.1651},{"i":414.5,"v":1.1666}
],
"sma200": [
{"i":-1,"v":1.0790},{"i":20,"v":1.0790},{"i":40,"v":1.0818},{"i":55,"v":1.0838},{"i":69.5,"v":1.0858},{"i":82,"v":1.0875},{"i":94.5,"v":1.0877},{"i":107,"v":1.0875},{"i":119.5,"v":1.0867},{"i":127.75,"v":1.0855},
{"i":139.5,"v":1.0840},{"i":150.25,"v":1.0815},{"i":160.25,"v":1.0785},{"i":172.75,"v":1.0768},{"i":181.25,"v":1.0753},{"i":191.25,"v":1.0740},{"i":209.5,"v":1.0735},{"i":230,"v":1.0765},{"i":244.5,"v":1.0800},{"i":260,"v":1.0830},
{"i":275,"v":1.0867},{"i":290,"v":1.0910},{"i":305.5,"v":1.0975},{"i":321,"v":1.1052},{"i":336,"v":1.1144},{"i":351.5,"v":1.1229},{"i":366.75,"v":1.1320},{"i":375,"v":1.1364},{"i":382,"v":1.1405},{"i":390,"v":1.1440},
{"i":397.5,"v":1.1486},{"i":405,"v":1.1520},{"i":414.5,"v":1.1563}
],
"zzmajor": [
{"i":-36.5,"p":1.0601},{"i":75.5,"p":1.1220},{"i":161.5,"p":1.0185},{"i":335,"p":1.1922},{"i":370.5,"p":1.1469},{"i":405.2,"p":1.1810}
],
"zzminor": [
{"i":0.25,"p":1.0922},{"i":17,"p":1.0668},{"i":31.6,"p":1.0950},{"i":43.6,"p":1.0780},{"i":59,"p":1.1202},{"i":72,"p":1.1002},{"i":82.2,"p":1.1214},{"i":102.5,"p":1.0761},{"i":112.25,"p":1.0937},{"i":124,"p":1.0332},
{"i":134.25,"p":1.0630},{"i":158.25,"p":1.0178},{"i":168.25,"p":1.0533},{"i":172.75,"p":1.0210},{"i":204.25,"p":1.0954},{"i":211.5,"p":1.0735},{"i":228.25,"p":1.1573},{"i":242.8,"p":1.1065},{"i":279.1,"p":1.1830},{"i":291.2,"p":1.1556},
{"i":296.2,"p":1.1788},{"i":302.4,"p":1.1391},{"i":317.4,"p":1.1743},{"i":320.3,"p":1.1574},{"i":334.9,"p":1.1919},{"i":370.3,"p":1.1468},{"i":405.2,"p":1.1808},{"i":415.3,"p":1.1625}
]
},
"layer": [
{"data": {"values": [{"p":1.2},{"p":1.1},{"p":1.0}]}, "mark": {"type": "rule", "color": "#FFFF00", "strokeWidth": 2}, "encoding": {"y": {"field": "p", "type": "quantitative", "title": null}}},
{"data": {"values": [{"p":1.1920},{"p":1.1201},{"p":1.0178}]}, "mark": {"type": "rule", "color": "#5F9EA0", "strokeWidth": 3}, "encoding": {"y": {"field": "p", "type": "quantitative", "title": null}}},
{"data": {"values": [{"p":1.15}]}, "mark": {"type": "rule", "color": "#5F9EA0", "strokeWidth": 2}, "encoding": {"y": {"field": "p", "type": "quantitative", "title": null}}},
{"data": {"values": [{"p":1.15},{"p":1.05}]}, "mark": {"type": "rule", "color": "#FFFF00", "strokeWidth": 1, "strokeDash": [3, 3]}, "encoding": {"y": {"field": "p", "type": "quantitative", "title": null}}},
{"data": {"values": [{"p":1.16302}]}, "mark": {"type": "rule", "color": "#778899", "strokeWidth": 1}, "encoding": {"y": {"field": "p", "type": "quantitative", "title": null}}},
{"data": {"values": [{"i":150.5}]}, "mark": {"type": "rule", "color": "#FFCC00", "strokeWidth": 1}, "encoding": {"x": {"field": "i", "type": "quantitative", "title": null}}},
{"data": {"values": [{"i":151},{"i":410}]}, "mark": {"type": "rule", "color": "#778899", "strokeWidth": 1, "strokeDash": [3, 3]}, "encoding": {"x": {"field": "i", "type": "quantitative", "title": null}}},
{"data": {"name": "months"}, "mark": {"type": "rect", "fillOpacity": 0, "strokeWidth": 1, "clip": true},
 "encoding": {"x": {"field": "x1", "type": "quantitative", "title": null}, "x2": {"field": "x2"}, "y": {"field": "o", "type": "quantitative", "title": null}, "y2": {"field": "c"},
  "stroke": {"condition": {"test": "datum.c >= datum.o", "value": "#FFCC00"}, "value": "#FF0000"}}},
{"data": {"name": "months"}, "transform": [{"filter": "datum.c >= datum.o"}], "layer": [
  {"mark": {"type": "rule", "color": "#FFCC00", "strokeWidth": 1, "clip": true}, "encoding": {"x": {"field": "xm", "type": "quantitative", "title": null}, "y": {"field": "c", "type": "quantitative", "title": null}, "y2": {"field": "h"}}},
  {"mark": {"type": "rule", "color": "#FFCC00", "strokeWidth": 1, "clip": true}, "encoding": {"x": {"field": "xm", "type": "quantitative", "title": null}, "y": {"field": "o", "type": "quantitative", "title": null}, "y2": {"field": "l"}}}
]},
{"data": {"name": "months"}, "transform": [{"filter": "datum.c < datum.o"}], "layer": [
  {"mark": {"type": "rule", "color": "#FF0000", "strokeWidth": 1, "clip": true}, "encoding": {"x": {"field": "xm", "type": "quantitative", "title": null}, "y": {"field": "o", "type": "quantitative", "title": null}, "y2": {"field": "h"}}},
  {"mark": {"type": "rule", "color": "#FF0000", "strokeWidth": 1, "clip": true}, "encoding": {"x": {"field": "xm", "type": "quantitative", "title": null}, "y": {"field": "c", "type": "quantitative", "title": null}, "y2": {"field": "l"}}}
]},
{"data": {"name": "sma200"}, "mark": {"type": "line", "color": "#FFFF00", "strokeWidth": 1, "strokeDash": [3, 4], "clip": true}, "encoding": {"x": {"field": "i", "type": "quantitative", "title": null}, "y": {"field": "v", "type": "quantitative", "title": null}}},
{"data": {"name": "sma100"}, "mark": {"type": "line", "color": "#5F9EA0", "strokeWidth": 1, "strokeDash": [3, 3], "clip": true}, "encoding": {"x": {"field": "i", "type": "quantitative", "title": null}, "y": {"field": "v", "type": "quantitative", "title": null}}},
{"data": {"name": "sma21"}, "mark": {"type": "line", "color": "#FF1493", "strokeWidth": 1, "strokeDash": [2, 4], "clip": true}, "encoding": {"x": {"field": "i", "type": "quantitative", "title": null}, "y": {"field": "v", "type": "quantitative", "title": null}}},
{"data": {"name": "candles"}, "mark": {"type": "rule", "strokeWidth": 1},
 "encoding": {
  "x": {"field": "i", "type": "quantitative", "title": null,
   "scale": {"domain": [-0.625, 466.125], "nice": false, "zero": false},
   "axis": {"orient": "bottom", "values": [0,16,32,48,64,80,96,112,128,144,160,176,192,208,224,240,256,272,288,304,320,336,352,368,384,400], "tickCount": 60,
    "labelExpr": "['3 Jun 2024','25 Jun 2024','17 Jul 2024','8 Aug 2024','30 Aug 2024','23 Sep 2024','15 Oct 2024','6 Nov 2024','28 Nov 2024','','15 Jan 2025','6 Feb 2025','28 Feb 2025','24 Mar 2025','15 Apr 2025','7 May 2025','29 May 2025','20 Jun 2025','14 Jul 2025','5 Aug 2025','27 Aug 2025','18 Sep 2025','10 Oct 2025','3 Nov 2025','25 Nov 2025',''][round(datum.value/16)]",
    "labelAlign": "left", "labelBaseline": "top", "labelPadding": 2, "labelFlush": false, "labelOverlap": false, "labelBound": false,
    "tickSize": 4, "tickColor": "#808080", "domain": false, "grid": false, "labelColor": "#9a9a9a", "labelFont": "Liberation Sans", "labelFontSize": 9.5, "labelOffset": 1}},
  "y": {"field": "l", "type": "quantitative", "title": null,
   "scale": {"domain": [0.9926, 1.2179], "nice": false, "zero": false},
   "axis": {"orient": "right", "values": [1.2172,1.2092,1.2012,1.1932,1.1852,1.1772,1.1692,1.1612,1.1532,1.1452,1.1372,1.1292,1.1212,1.1132,1.1052,1.0972,1.0892,1.0812,1.0732,1.0652,1.0572,1.0492,1.0412,1.0332,1.0252,1.0172,1.0092,1.0012], "tickCount": 60,
    "format": ".5f", "labelColor": "#9a9a9a", "labelFont": "Liberation Sans", "labelFontSize": 9.5, "tickSize": 4, "tickColor": "#808080", "labelPadding": 2,
    "domain": false, "grid": false, "labelOverlap": false, "labelBound": false, "labelFlush": false}},
  "y2": {"field": "h"},
  "color": {"condition": {"test": "datum.c >= datum.o", "value": "#FFFFFF"}, "value": "#00CED1"}}},
{"data": {"name": "candles"}, "mark": {"type": "rule", "strokeWidth": 3, "strokeCap": "butt"},
 "encoding": {"x": {"field": "i", "type": "quantitative", "title": null}, "y": {"field": "o", "type": "quantitative", "title": null}, "y2": {"field": "c"},
  "color": {"condition": {"test": "datum.c >= datum.o", "value": "#FFFFFF"}, "value": "#00CED1"}}},
{"data": {"name": "candles"}, "transform": [{"filter": "datum.c < datum.o"}], "mark": {"type": "rule", "strokeWidth": 1, "strokeCap": "butt", "color": "#1E90FF"},
 "encoding": {"x": {"field": "i", "type": "quantitative", "title": null}, "y": {"field": "o", "type": "quantitative", "title": null}, "y2": {"field": "c"}}},
{"data": {"name": "zzmajor"}, "mark": {"type": "line", "color": "#5F9EA0", "strokeWidth": 3, "clip": true}, "encoding": {"x": {"field": "i", "type": "quantitative", "title": null}, "y": {"field": "p", "type": "quantitative", "title": null}}},
{"data": {"name": "zzminor"}, "mark": {"type": "line", "color": "#FF1493", "strokeWidth": 2, "clip": true}, "encoding": {"x": {"field": "i", "type": "quantitative", "title": null}, "y": {"field": "p", "type": "quantitative", "title": null}}},
{"data": {"values": [{"a":262.5,"b":429.5,"p":1.1825},{"a":294.25,"b":422.75,"p":1.1391}]}, "mark": {"type": "rule", "color": "#FF1493", "strokeWidth": 2, "clip": true},
 "encoding": {"x": {"field": "a", "type": "quantitative", "title": null}, "x2": {"field": "b"}, "y": {"field": "p", "type": "quantitative", "title": null}}},
{"data": {"values": [{"i":335.2,"p":1.1947,"t":"2025 Hi"},{"i":307.6,"p":1.1121,"t":"2024H"},{"i":211.4,"p":1.0113,"t":"2025L"}]}, "mark": {"type": "text", "color": "#5F9EA0", "fontSize": 15, "align": "center", "baseline": "alphabetic", "font": "Liberation Sans"},
 "encoding": {"x": {"field": "i", "type": "quantitative", "title": null}, "y": {"field": "p", "type": "quantitative", "title": null}, "text": {"field": "t"}}},
{"data": {"values": [{"i":424.9,"p":1.1368,"t":"7MN Lo"}]}, "mark": {"type": "text", "color": "#FF1493", "fontSize": 16, "align": "left", "baseline": "alphabetic", "font": "Liberation Sans"},
 "encoding": {"x": {"field": "i", "type": "quantitative", "title": null}, "y": {"field": "p", "type": "quantitative", "title": null}, "text": {"field": "t"}}},
{"data": {"values": [{"i":417.05,"p":1.17149,"t":"D1-SMA(21)"}]}, "mark": {"type": "text", "color": "#FF1493", "fontSize": 13, "align": "left", "baseline": "alphabetic", "font": "Liberation Sans"},
 "encoding": {"x": {"field": "i", "type": "quantitative", "title": null}, "y": {"field": "p", "type": "quantitative", "title": null}, "text": {"field": "t"}}},
{"data": {"values": [{"i":417.05,"p":1.16476,"t":"D1-SMA(100)"}]}, "mark": {"type": "text", "color": "#5F9EA0", "fontSize": 13, "align": "left", "baseline": "alphabetic", "font": "Liberation Sans"},
 "encoding": {"x": {"field": "i", "type": "quantitative", "title": null}, "y": {"field": "p", "type": "quantitative", "title": null}, "text": {"field": "t"}}},
{"data": {"values": [{"i":417.05,"p":1.15515,"t":"D1-SMA(200)"}]}, "mark": {"type": "text", "color": "#FFFF00", "fontSize": 13, "align": "left", "baseline": "alphabetic", "font": "Liberation Sans"},
 "encoding": {"x": {"field": "i", "type": "quantitative", "title": null}, "y": {"field": "p", "type": "quantitative", "title": null}, "text": {"field": "t"}}},
{"data": {"values": [{"i":435.6,"p":1.21166,"t":"EURUSD D1"}]}, "mark": {"type": "text", "color": "#FFFFFF", "fontSize": 20, "align": "left", "baseline": "alphabetic", "font": "Liberation Sans"},
 "encoding": {"x": {"field": "i", "type": "quantitative", "title": null}, "y": {"field": "p", "type": "quantitative", "title": null}, "text": {"field": "t"}}},
{"data": {"values": [{"i":436.4,"p":1.20525,"t":"MN/W1"}]}, "mark": {"type": "text", "color": "#FFFFFF", "fontSize": 20, "align": "left", "baseline": "alphabetic", "font": "Liberation Sans"},
 "encoding": {"x": {"field": "i", "type": "quantitative", "title": null}, "y": {"field": "p", "type": "quantitative", "title": null}, "text": {"field": "t"}}},
{"data": {"values": [{"i":414.9,"p":1.2166}]}, "mark": {"type": "point", "shape": "triangle-down", "filled": true, "color": "#808080", "size": 45, "opacity": 1},
 "encoding": {"x": {"field": "i", "type": "quantitative", "title": null}, "y": {"field": "p", "type": "quantitative", "title": null}}},
{"data": {"values": [{"p":1.2,"t":"1.20000","k":"lvl"},{"p":1.16302,"t":"1.16302","k":"bid"},{"p":1.15,"t":"1.15000","k":"lvl"},{"p":1.1,"t":"1.10000","k":"lvl"},{"p":1.05,"t":"1.05000","k":"lvl"},{"p":1.0,"t":"1.00000","k":"lvl"}]},
 "layer": [
  {"mark": {"type": "point", "shape": "M-1,-0.282H1V0.282H-1Z", "filled": true, "size": 1521, "opacity": 1, "clip": false},
   "encoding": {"x": {"datum": 471.75, "type": "quantitative"}, "y": {"field": "p", "type": "quantitative", "title": null},
    "color": {"condition": {"test": "datum.k == 'bid'", "value": "#778899"}, "value": "#FFFF00"}}},
  {"mark": {"type": "text", "color": "#000000", "fontSize": 10, "align": "center", "baseline": "middle", "font": "Liberation Sans"},
   "encoding": {"x": {"datum": 471.75, "type": "quantitative"}, "y": {"field": "p", "type": "quantitative", "title": null}, "text": {"field": "t"}}}
 ]},
{"data": {"values": [{"i":151,"t":"2025.01.02 00:00"},{"i":410,"t":"2026.01.02 00:00"}]},
 "layer": [
  {"mark": {"type": "point", "shape": "M-1,-0.147H1V0.147H-1Z", "filled": true, "size": 5625, "opacity": 1, "color": "#778899", "clip": false},
   "encoding": {"x": {"field": "i", "type": "quantitative", "title": null}, "y": {"datum": 0.99055, "type": "quantitative"}}},
  {"mark": {"type": "text", "color": "#000000", "fontSize": 9.5, "align": "center", "baseline": "middle", "font": "Liberation Sans"},
   "encoding": {"x": {"field": "i", "type": "quantitative", "title": null}, "y": {"datum": 0.99055, "type": "quantitative"}, "text": {"field": "t"}}}
 ]}
]
}
